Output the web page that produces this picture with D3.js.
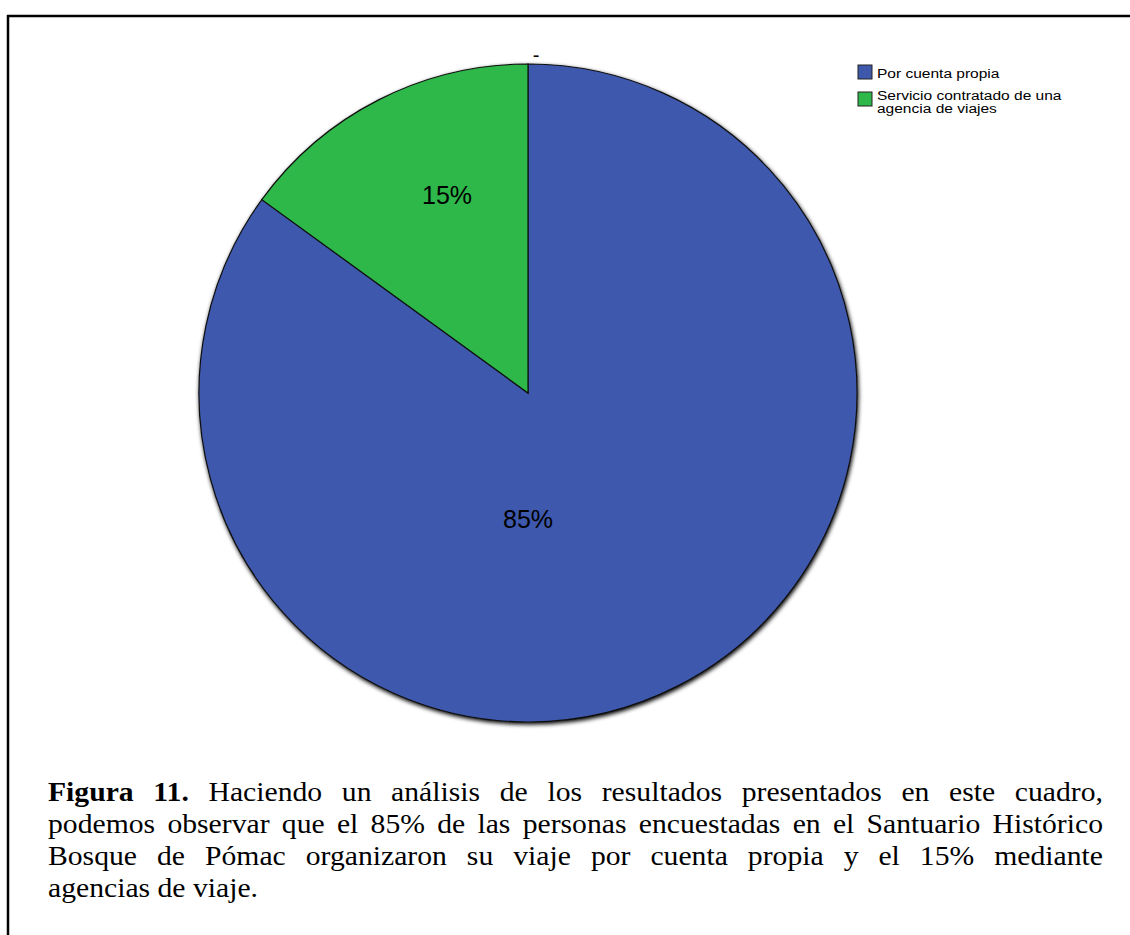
<!DOCTYPE html>
<html>
<head>
<meta charset="utf-8">
<script src="https://cdn.jsdelivr.net/npm/d3@7"></script>
<style>
  body { margin: 0; background: #fff; }
  .legend text { font-family: Arial, "Liberation Sans", sans-serif; font-size: 13.5px; fill: #000; }
  .slice-label { font-family: Arial, "Liberation Sans", sans-serif; font-size: 25px; fill: #000; }
  .caption text { font-family: "Times New Roman", "Liberation Serif", serif; font-size: 26.5px; fill: #000; }
</style>
</head>
<body>
<div class="chart"></div>
<script>
// Data
const categories = ['Por cuenta propia', 'Servicio contratado de una agencia de viajes']
const legendLines = [['Por cuenta propia'], ['Servicio contratado de una', 'agencia de viajes']]
const values = [85, 15]
const sliceLabels = ['85%', '15%']
const colors = ['#3e58ac', '#2eb84a']
const captionLines = [
  '**Figura **11.** Haciendo un análisis de los resultados presentados en este cuadro,',
  'podemos observar que el 85% de las personas encuestadas en el Santuario Histórico',
  'Bosque de Pómac organizaron su viaje por cuenta propia y el 15% mediante',
  'agencias de viaje.'
]

const dims = {
  width: 1130,
  height: 935,
  cx: 528,
  cy: 393,
  r: 329,
  textLeft: 48,
  textRight: 1103,
  textStretch: 1.12,
  legendStretch: 1.15,
  firstBaseline: 801,
  lineGap: 32
}

const svg = d3.select('.chart')
  .append('svg')
  .attr('width', dims.width)
  .attr('height', dims.height)

// frame (top + left visible)
svg.append('line')
  .attr('x1', 7).attr('y1', 16).attr('x2', dims.width).attr('y2', 16)
  .attr('stroke', '#000').attr('stroke-width', 2.5)
svg.append('line')
  .attr('x1', 8).attr('y1', 15).attr('x2', 8).attr('y2', dims.height)
  .attr('stroke', '#000').attr('stroke-width', 2.5)

// shadow filter
const defs = svg.append('defs')
const f = defs.append('filter').attr('id', 'shadow').attr('x', '-10%').attr('y', '-10%').attr('width', '120%').attr('height', '120%')
f.append('feGaussianBlur').attr('in', 'SourceAlpha').attr('stdDeviation', 2)
f.append('feOffset').attr('dx', 1).attr('dy', 2).attr('result', 'b')
const merge = f.append('feMerge')
merge.append('feMergeNode').attr('in', 'b')
merge.append('feMergeNode').attr('in', 'SourceGraphic')

// pie
const pieGen = d3.pie().sort(null).value(d => d)
const arcs = pieGen(values)
const arcGen = d3.arc().innerRadius(0).outerRadius(dims.r)

const pieGroup = svg.append('g')
  .attr('transform', `translate(${dims.cx},${dims.cy})`)

pieGroup.append('g')
  .attr('filter', 'url(#shadow)')
  .selectAll('path')
  .data(arcs)
  .join('path')
  .attr('d', arcGen)
  .attr('fill', (d, i) => colors[i])
  .attr('stroke', '#111')
  .attr('stroke-width', 1.2)

// label offsets from centre (SPSS-like placement)
const labelPos = [
  [0, 126],
  [-81, -198]
]
pieGroup.selectAll('.slice-label')
  .data(arcs)
  .join('text')
  .classed('slice-label', true)
  .attr('x', (d, i) => labelPos[i][0])
  .attr('y', (d, i) => labelPos[i][1])
  .attr('text-anchor', 'middle')
  .attr('dy', '0.35em')
  .text((d, i) => sliceLabels[i])

// empty title dash
svg.append('text')
  .attr('x', 536).attr('y', 62)
  .attr('text-anchor', 'middle')
  .style('font-family', 'Arial, sans-serif')
  .style('font-size', '20px')
  .text('-')

// legend
const legend = svg.append('g').classed('legend', true)
  .attr('transform', 'translate(858,65)')
const legendY = [0, 27]
const items = legend.selectAll('g')
  .data(categories)
  .join('g')
  .attr('transform', (d, i) => `translate(0,${legendY[i]})`)
items.append('rect')
  .attr('width', 14).attr('height', 14)
  .attr('fill', (d, i) => colors[i])
  .attr('stroke', '#222').attr('stroke-width', 1)
items.each(function (d, i) {
  const g = d3.select(this).append('g')
    .attr('transform', `translate(19,0) scale(${dims.legendStretch},1)`)
  const startY = i === 0 ? 13 : 8
  legendLines[i].forEach((t, j) => {
    g.append('text').attr('x', 0).attr('y', startY + j * 13).text(t)
  })
})

// caption with justified lines (words wrapped in ** are bold)
const cap = svg.append('g').classed('caption', true)
  .attr('transform', `translate(${dims.textLeft},0) scale(${dims.textStretch},1)`)
const availW = (dims.textRight - dims.textLeft) / dims.textStretch
captionLines.forEach((line, li) => {
  const y = dims.firstBaseline + li * dims.lineGap
  const words = line.split(' ').map(w => {
    const bold = w.startsWith('**')
    return { t: w.replace(/\*\*/g, ''), bold }
  })
  const nodes = words.map(w => cap.append('text')
    .attr('y', y)
    .style('font-weight', w.bold ? 'bold' : 'normal')
    .text(w.t))
  const widths = nodes.map(n => n.node().getComputedTextLength())
  const total = d3.sum(widths)
  const justify = li < captionLines.length - 1
  const gap = justify ? (availW - total) / (words.length - 1) : 6.6
  let x = 0
  nodes.forEach((n, k) => {
    n.attr('x', x)
    x += widths[k] + gap
  })
})
</script>
</body>
</html>
